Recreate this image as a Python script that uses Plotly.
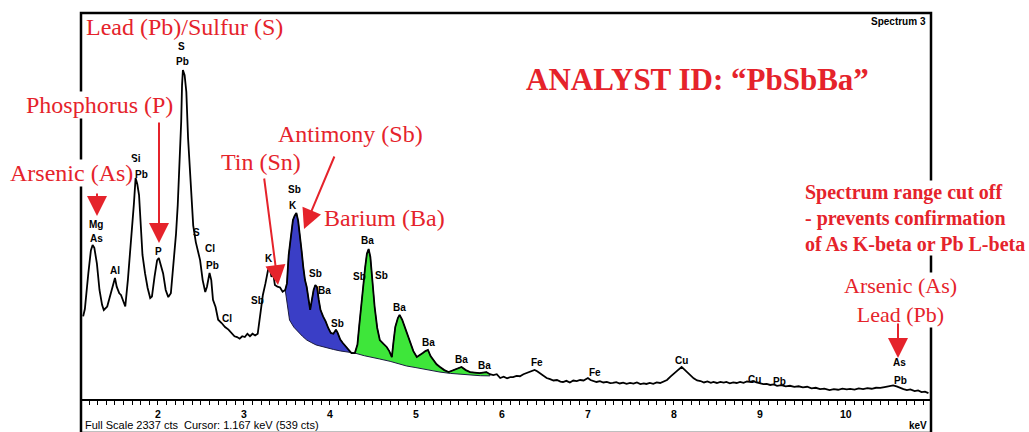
import plotly.graph_objects as go

# ---------------- data ----------------
energy_kev = [1.13, 1.15, 1.19, 1.22, 1.24, 1.26, 1.29, 1.32, 1.35, 1.37, 1.41, 1.45, 1.48, 1.50, 1.52, 1.55,
              1.57, 1.60, 1.62, 1.65, 1.68, 1.70, 1.72, 1.74, 1.76, 1.78, 1.80, 1.82, 1.85, 1.88, 1.91, 1.93,
              1.96, 1.99, 2.01, 2.03, 2.06, 2.09, 2.12, 2.15, 2.18, 2.21, 2.23, 2.25, 2.27, 2.28, 2.29, 2.31,
              2.33, 2.35, 2.37, 2.39, 2.41, 2.44, 2.46, 2.49, 2.52, 2.55, 2.57, 2.60, 2.62, 2.64, 2.67, 2.70,
              2.74, 2.78, 2.82, 2.86, 2.89, 2.92, 2.95, 2.98, 3.01, 3.04, 3.07, 3.10, 3.13, 3.16, 3.19, 3.22,
              3.25, 3.28, 3.30, 3.32, 3.34, 3.36, 3.39, 3.42, 3.45, 3.48,
              3.50, 3.52, 3.55, 3.57, 3.59, 3.61, 3.63, 3.65, 3.67, 3.69, 3.71, 3.73, 3.75, 3.77, 3.79, 3.81,
              3.83, 3.85, 3.87, 3.89, 3.92, 3.95, 3.98, 4.01, 4.04, 4.07, 4.09, 4.12, 4.15, 4.19, 4.22, 4.25,
              4.29,
              4.32, 4.34, 4.37, 4.39, 4.41, 4.43, 4.45, 4.47, 4.48, 4.50, 4.52, 4.55, 4.58, 4.62, 4.66, 4.69,
              4.72, 4.74, 4.76, 4.79, 4.81, 4.84, 4.87, 4.90, 4.93, 4.97, 5.01, 5.05, 5.08, 5.11, 5.14, 5.17,
              5.20, 5.24, 5.28, 5.33, 5.38, 5.42, 5.45, 5.50, 5.53, 5.58, 5.63, 5.68, 5.74, 5.78, 5.82, 5.86,
              5.90, 5.94, 5.98, 6.02, 6.06, 6.10, 6.13, 6.17, 6.21, 6.25, 6.29, 6.33, 6.38, 6.41, 6.44, 6.48,
              6.52, 6.56, 6.60, 6.64, 6.68, 6.71, 6.75, 6.79, 6.83, 6.87, 6.91, 6.95, 7.00, 7.03, 7.06, 7.10,
              7.14, 7.18, 7.22, 7.26, 7.29, 7.33, 7.37, 7.41, 7.45, 7.49, 7.53, 7.57, 7.61, 7.65, 7.68, 7.72,
              7.76, 7.80, 7.84, 7.88, 7.92, 7.96, 8.00, 8.04, 8.09, 8.12, 8.15, 8.19, 8.23, 8.27, 8.31, 8.35,
              8.39, 8.43, 8.46, 8.50, 8.54, 8.58, 8.61, 8.65, 8.69, 8.73, 8.77, 8.81, 8.85, 8.89, 8.92, 8.96,
              9.00, 9.04, 9.08, 9.12, 9.16, 9.20, 9.25, 9.30, 9.35, 9.40, 9.45, 9.50, 9.55, 9.60, 9.65, 9.70,
              9.75, 9.81, 9.86, 9.91, 9.96, 10.01, 10.05, 10.10, 10.15, 10.20, 10.25, 10.30, 10.35, 10.40,
              10.45, 10.50, 10.55, 10.59, 10.63, 10.67, 10.71, 10.75, 10.80, 10.84, 10.88, 10.92, 10.96]

counts = [500, 545, 760, 900, 932, 915, 820, 660, 570, 539, 560, 640, 710, 733, 680, 640,
          630, 580, 560, 720, 900, 1023, 1180, 1338, 1300, 1235, 1050, 872, 760, 672, 611, 620,
          740, 840, 854, 820, 760, 660, 617, 640, 800, 1000, 1174, 1400, 1677, 1900, 1992, 1960,
          1859, 1580, 1380, 1200, 1050, 950, 900, 841, 720, 648, 680, 763, 720, 600, 557, 480,
          460, 436, 420, 400, 380, 375, 365, 380, 375, 395, 380, 395, 385, 395, 500, 630,
          700, 780, 799, 740, 760, 690, 680, 675, 650, 660,
          700, 870, 1000, 1084, 1110, 1126, 1080, 1005, 900, 799, 720, 678, 600, 539, 600, 660,
          690, 678, 600, 540, 500, 470, 430, 400, 395, 420, 400, 360, 339, 315, 295, 278,
          278,
          330, 440, 599, 720, 799, 880, 908, 860, 799, 680, 557, 430, 357, 335, 315, 290,
          254, 350, 436, 490, 509, 480, 436, 380, 339, 290, 254, 265, 278, 290, 297, 260,
          236, 210, 194, 175, 163, 170, 176, 185, 194, 175, 163, 160, 157, 160, 163, 150,
          145, 150, 127, 135, 125, 133, 133, 140, 138, 150, 157, 165, 176, 168, 157, 140,
          127, 120, 112, 115, 105, 103, 110, 100, 112, 108, 115, 112, 127, 115, 110, 103,
          108, 100, 104, 96, 97, 102, 94, 99, 92, 97, 93, 100, 90, 95, 91, 97,
          92, 100, 97, 104, 115, 135, 151, 172, 194, 180, 160, 145, 125, 112, 109, 100,
          106, 98, 103, 97, 104, 99, 103, 95, 101, 97, 104, 98, 106, 104, 109, 100,
          95, 90, 92, 85, 88, 80, 84, 76, 80, 73, 77, 70, 74, 64, 68, 60,
          63, 54, 60, 56, 63, 58, 61, 57, 64, 60, 66, 62, 68, 67,
          72, 78, 82, 76, 66, 60, 54, 58, 48, 52, 42, 45, 36]

# background under the shaded Sb (blue) and Ba (green) regions
sb_bg_kev = [3.48, 3.50, 3.53, 3.58, 3.63, 3.68, 3.73, 3.79, 3.84, 3.90, 3.96, 4.04, 4.12, 4.20, 4.29]
sb_bg_cts = [660, 581, 478, 435, 406, 380, 357, 340, 327, 317, 309, 300, 291, 284, 278]
ba_bg_kev = [4.29, 4.40, 4.50, 4.58, 4.70, 4.80, 4.89, 5.00, 5.10, 5.20, 5.28, 5.40, 5.50, 5.63, 5.75, 5.86]
ba_bg_cts = [278, 262, 250, 242, 228, 214, 200, 190, 180, 172, 163, 155, 150, 145, 141, 140]
sb_range = [3.48, 4.29]
ba_range = [4.29, 5.86]

# peak labels on the spectrum
peak_text = ["S", "Pb", "Si", "Pb", "Mg", "As", "Al", "P", "S", "Cl", "Pb", "Cl", "Sb", "K",
             "Sb", "K", "Sb", "Ba", "Sb", "Ba", "Sb", "Sb", "Ba", "Ba", "Ba", "Ba",
             "Fe", "Fe", "Cu", "Cu", "Pb", "As", "Pb"]
peak_kev = [2.27, 2.29, 1.74, 1.81, 1.28, 1.29, 1.50, 2.01, 2.45, 2.60, 2.63, 2.80, 3.16, 3.29,
            3.59, 3.57, 3.83, 3.94, 4.09, 4.44, 4.34, 4.60, 4.81, 5.15, 5.53, 5.80,
            6.41, 7.08, 8.09, 8.94, 9.23, 10.62, 10.64]
peak_cts = [2137, 2046, 1459, 1362, 1059, 969, 781, 896, 1011, 914, 811, 490, 599, 848,
            1271, 1174, 757, 654, 460, 957, 739, 745, 551, 345, 242, 200,
            218, 163, 236, 121, 103, 218, 115]

tick_vals = [2, 3, 4, 5, 6, 7, 8, 9, 10]
tick_text = ["2", "3", "4", "5", "6", "7", "8", "9", "10"]
full_scale = 2337
x_range = [1.105, 10.99]

RED = "#e5232b"
SERIF = "Liberation Serif"
SANS = "Liberation Sans"

W, H = 1029, 432
L, R, T, B = 81, 931, 13, 399


def px(x):
    return (x - L) / (R - L)


def py(y):
    return (B - y) / (B - T)


def segment(lo, hi):
    xs = [e for e in energy_kev if lo - 1e-9 <= e <= hi + 1e-9]
    ys = [c for e, c in zip(energy_kev, counts) if lo - 1e-9 <= e <= hi + 1e-9]
    return xs, ys


fig = go.Figure()

for rng, bx, by, col in [(sb_range, sb_bg_kev, sb_bg_cts, "#3a3ec6"),
                         (ba_range, ba_bg_kev, ba_bg_cts, "#3ee63a")]:
    sx, sy = segment(*rng)
    fig.add_trace(go.Scatter(x=sx + bx[::-1], y=sy + by[::-1], mode="lines", fill="toself",
                             fillcolor=col, line=dict(color="#1a1a40", width=1),
                             hoverinfo="skip", showlegend=False))

fig.add_trace(go.Scatter(x=energy_kev, y=counts, mode="lines",
                         line=dict(color="black", width=1.8), showlegend=False))

ann = []
for t, x, y in zip(peak_text, peak_kev, peak_cts):
    ann.append(dict(x=x, y=y, xref="x", yref="y", text="<b>%s</b>" % t, showarrow=False,
                    font=dict(family=SANS, size=10, color="black")))


def red_text(text, cx, cy, size=24, bold=False, bg=None, xanchor="center", align="center"):
    d = dict(x=px(cx), y=py(cy), xref="paper", yref="paper",
             text=("<b>%s</b>" % text) if bold else text, showarrow=False,
             xanchor=xanchor, yanchor="middle", align=align,
             font=dict(family=SERIF, size=size, color=RED), borderpad=0)
    if bg:
        d["bgcolor"] = bg
    ann.append(d)


red_text("Lead (Pb)/Sulfur (S)", 184, 27)
red_text("Phosphorus (P)", 99, 105, bg="white")
red_text("Arsenic (As)", 71, 173, bg="white")
red_text("Tin (Sn)", 261, 162)
red_text("Antimony (Sb)", 350, 134)
red_text("Barium (Ba)", 384, 218)
red_text("ANALYST ID: \u201cPbSbBa\u201d", 697, 80, size=31, bold=True)
red_text("Spectrum range cut off<br>- prevents confirmation<br>of As K-beta or Pb L-beta",
         804, 218, size=20, bold=True, bg="white", xanchor="left", align="left")
red_text("Arsenic (As)<br>Lead (Pb)", 900, 300, size=22, bg="white")

# red arrows: (tip_x, tip_y, tail_x, tail_y) in pixels
arrows = [(97, 216, 97, 192), (159, 243, 159, 121), (278, 285, 264, 177),
          (304, 229, 335, 155), (898, 358, 898, 322)]
for tx, ty, sx_, sy_ in arrows:
    ann.append(dict(x=px(tx), y=py(ty), xref="paper", yref="paper", text="",
                    showarrow=True, ax=sx_ - tx, ay=sy_ - ty, arrowcolor=RED,
                    arrowwidth=2, arrowhead=2, arrowsize=2, standoff=0, startstandoff=0))

ann.append(dict(x=px(928), y=py(22), xref="paper", yref="paper", text="<b>Spectrum 3</b>",
                showarrow=False, xanchor="right", yanchor="middle",
                font=dict(family=SANS, size=10, color="black")))
ann.append(dict(x=px(929), y=py(433), xref="paper", yref="paper", text="<b>keV</b>",
                showarrow=False, xanchor="right", yanchor="bottom",
                font=dict(family=SANS, size=10, color="black")))
ann.append(dict(x=px(83), y=py(433), xref="paper", yref="paper",
                text="Full Scale %d cts  Cursor: 1.167 keV (539 cts)" % full_scale,
                showarrow=False, xanchor="left", yanchor="bottom",
                font=dict(family=SANS, size=11, color="black")))

shapes = [dict(type="rect", xref="paper", yref="paper", x0=0, x1=1, y0=py(433), y1=1,
               line=dict(color="black", width=2.5), layer="above")]

fig.update_layout(
    width=W, height=H, margin=dict(l=L, r=W - R, t=T, b=H - B, autoexpand=False),
    paper_bgcolor="white", plot_bgcolor="white",
    xaxis=dict(range=x_range, tickmode="array", tickvals=tick_vals,
               ticktext=["<b>%s</b>" % t for t in tick_text],
               ticks="outside", ticklen=4, tickwidth=1, tickcolor="black",
               showline=True, linecolor="black", linewidth=2, showgrid=False, zeroline=False,
               tickfont=dict(family=SANS, size=10.5, color="black"),
               minor=dict(tickmode="linear", tick0=0, dtick=0.1, ticks="outside", ticklen=4,
                          tickcolor="black", tickwidth=1, showgrid=False)),
    yaxis=dict(range=[0, full_scale], visible=False),
    annotations=ann, shapes=shapes, showlegend=False,
)

fig.write_html("out.html", config={"displayModeBar": False},
               post_script="document.body.style.margin='0';document.body.style.overflow='hidden';")
